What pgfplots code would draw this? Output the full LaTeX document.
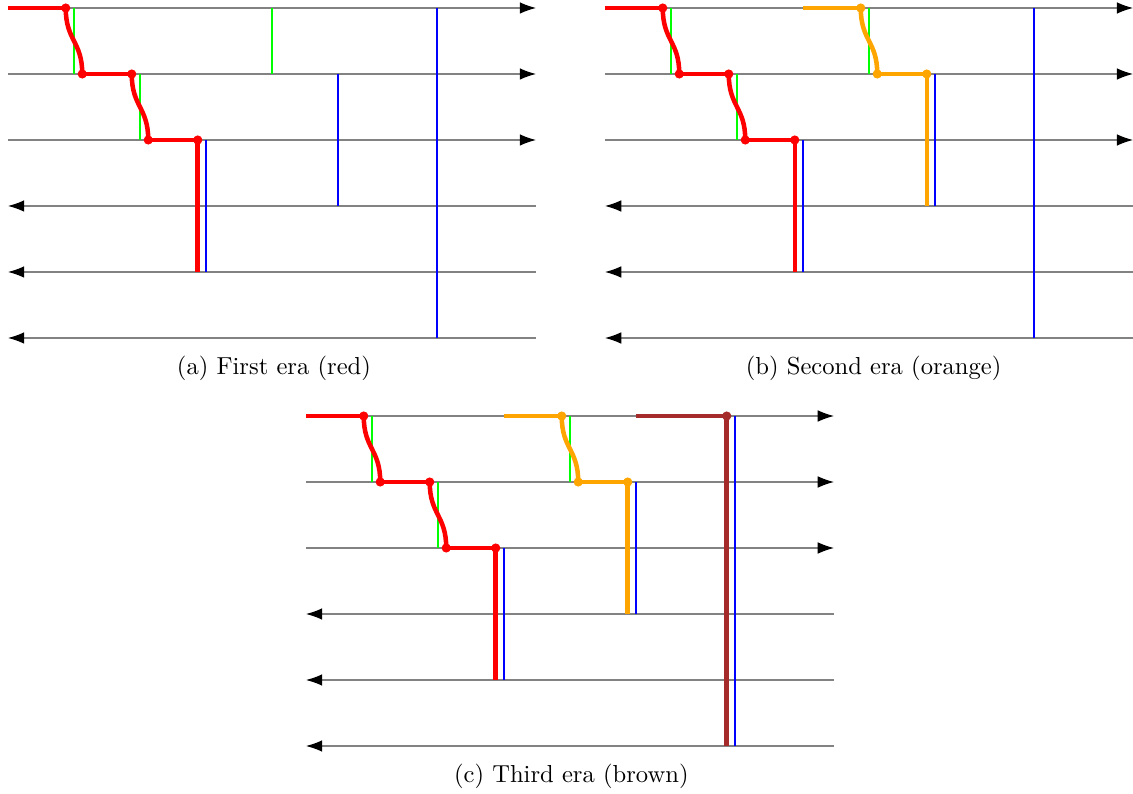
\documentclass[border=0pt]{standalone}
\usepackage{pgfplots}
\pgfplotsset{compat=1.18}
\usepackage{pgfplotstable}
\usetikzlibrary{arrows.meta}
\definecolor{svgorange}{RGB}{255,165,0}
\definecolor{svgbrown}{RGB}{165,42,42}
\definecolor{lanegray}{RGB}{130,130,130}

% normalized S-shaped step (x across, y down)
\pgfplotstableread{
xn yn
0 0
0.01123 0.08813
0.04297 0.16602
0.09229 0.23511
0.15625 0.29688
0.23193 0.35278
0.31641 0.40430
0.40674 0.45288
0.5 0.5
0.59326 0.54712
0.68359 0.59570
0.76807 0.64722
0.84375 0.70312
0.90771 0.76489
0.95703 0.83398
0.98877 0.91187
1 1
}\scurve

\pgfplotsset{
  lane/.style={draw=lanegray, line width=0.45pt, mark=none},
  era/.style={draw=#1, line width=1.95pt, mark=none},
  tick/.style={draw=#1, line width=0.95pt, mark=none},
  dots/.style={#1, only marks, mark=*, mark size=1.75pt, mark options={fill=#1, draw=#1}},
  panel/.style={x=1cm, y=1cm, xmin=0, xmax=8, ymin=0, ymax=5, hide axis, clip=false, anchor=south west},
}
\newcommand{\arr}{{Latex[length=7pt,width=5pt,color=black]}}
\newcommand{\capfont}{\fontsize{10.6}{12.7}\selectfont}

\newcommand{\lanes}{%
  \addplot[lane, -\arr] coordinates {(0,5) (8,5)};
  \addplot[lane, -\arr] coordinates {(0,4) (8,4)};
  \addplot[lane, -\arr] coordinates {(0,3) (8,3)};
  \addplot[lane, -\arr] coordinates {(8,2) (0,2)};
  \addplot[lane, -\arr] coordinates {(8,1) (0,1)};
  \addplot[lane, -\arr] coordinates {(8,0) (0,0)};
  \addplot[tick=green] coordinates {(1,5) (1,4)};
  \addplot[tick=green] coordinates {(2,4) (2,3)};
  \addplot[tick=green] coordinates {(4,5) (4,4)};
  \addplot[tick=blue] coordinates {(3,3) (3,1)};
  \addplot[tick=blue] coordinates {(5,4) (5,2)};
  \addplot[tick=blue] coordinates {(6.5,5) (6.5,0)};
}
\newcommand{\redera}{%
  \addplot[era=red] coordinates {(0,5) (0.875,5)};
  \addplot[era=red] table[x expr={0.875+0.25*\thisrow{xn}}, y expr={5-\thisrow{yn}}] {\scurve};
  \addplot[era=red] coordinates {(1.125,4) (1.875,4)};
  \addplot[era=red] table[x expr={1.875+0.25*\thisrow{xn}}, y expr={4-\thisrow{yn}}] {\scurve};
  \addplot[era=red] coordinates {(2.125,3) (2.875,3) (2.875,1)};
  \addplot[dots=red] coordinates {(0.875,5) (1.125,4) (1.875,4) (2.125,3) (2.875,3)};
}
\newcommand{\orangeera}{%
  \addplot[era=svgorange] coordinates {(3,5) (3.875,5)};
  \addplot[era=svgorange] table[x expr={3.875+0.25*\thisrow{xn}}, y expr={5-\thisrow{yn}}] {\scurve};
  \addplot[era=svgorange] coordinates {(4.125,4) (4.875,4) (4.875,2)};
  \addplot[dots=svgorange] coordinates {(3.875,5) (4.125,4) (4.875,4)};
}
\newcommand{\brownera}{%
  \addplot[era=svgbrown] coordinates {(5,5) (6.375,5) (6.375,0)};
  \addplot[dots=svgbrown] coordinates {(6.375,5)};
}

\begin{document}
\begin{tikzpicture}
\useasboundingbox (0,0) rectangle (17.167,-12.03);

\begin{axis}[panel, at={(0.121cm,-5.121cm)}]
  \lanes
  \redera
  \node[font=\capfont] at (axis cs:4.03,-0.46) {(a) First era (red)};
\end{axis}

\begin{axis}[panel, at={(9.167cm,-5.121cm)}]
  \lanes
  \redera
  \orangeera
  \node[font=\capfont] at (axis cs:4.07,-0.46) {(b) Second era (orange)};
\end{axis}

\begin{axis}[panel, at={(4.636cm,-11.303cm)}]
  \lanes
  \redera
  \orangeera
  \brownera
  \node[font=\capfont] at (axis cs:4.02,-0.46) {(c) Third era (brown)};
\end{axis}
\end{tikzpicture}
\end{document}
